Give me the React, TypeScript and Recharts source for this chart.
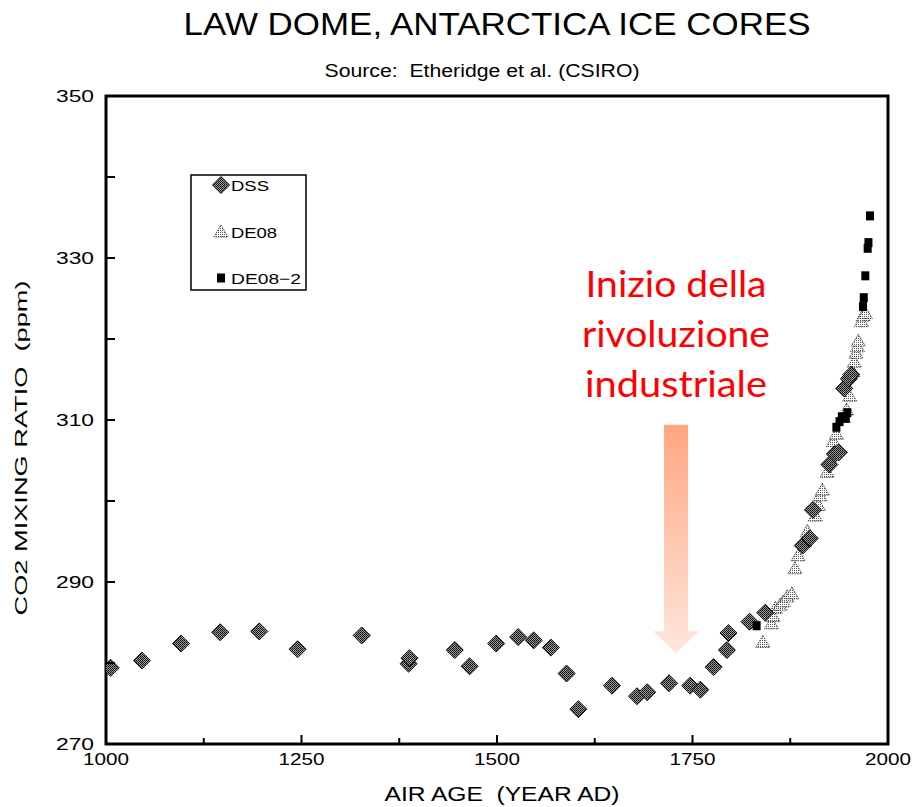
import React from "react";
import { ScatterChart, Scatter, XAxis, YAxis, ReferenceArea, Legend } from "recharts";

// Law Dome ice cores: air age (year AD) vs CO2 mixing ratio (ppm)
const dssYears = [
  1006, 1046, 1096, 1146, 1196, 1245, 1327, 1387, 1388, 1446, 1465, 1499, 1527, 1547,
  1569, 1589, 1604, 1647, 1679, 1692, 1720, 1747, 1760, 1777, 1794, 1796, 1823, 1843,
  1891, 1900, 1904, 1925, 1932, 1937, 1944, 1950, 1953,
];
const dssCo2 = [
  279.4, 280.3, 282.4, 283.8, 283.9, 281.7, 283.4, 279.9, 280.6, 281.6, 279.6, 282.4, 283.2, 282.8,
  281.9, 278.7, 274.3, 277.2, 275.9, 276.4, 277.5, 277.2, 276.7, 279.5, 281.6, 283.7, 285.1, 286.2,
  294.5, 295.4, 298.9, 304.5, 305.8, 306.0, 313.9, 315.1, 315.6,
];

const de08Years = [
  1840, 1851, 1853, 1856, 1862, 1866, 1871, 1877, 1881, 1885, 1893, 1897, 1907, 1911, 1913,
  1916, 1922, 1930, 1934, 1943, 1947, 1951, 1955, 1957, 1959, 1961, 1962, 1966, 1968, 1971,
];
const de08Co2 = [
  282.6, 284.9, 285.8, 286.8, 287.2, 287.6, 288.2, 288.6, 291.7, 293.3, 295.0, 296.3, 298.2, 299.5, 300.7,
  301.4, 303.6, 307.4, 308.3, 310.4, 311.3, 313.0, 316.0, 317.2, 318.3, 319.1, 319.8, 322.2, 322.9, 323.2,
];

const de082Years = [1832, 1934, 1938, 1941, 1946, 1948, 1968, 1969, 1971, 1974, 1975, 1977];
const de082Co2 = [284.6, 309.1, 309.8, 310.4, 310.2, 310.9, 324.0, 325.1, 327.8, 331.2, 331.9, 335.2];

const yearTicks = [1000, 1125, 1250, 1375, 1500, 1625, 1750, 1875, 2000];
const co2Ticks = [270, 280, 290, 300, 310, 320, 330, 340, 350];

const annotationLines = ["Inizio della", "rivoluzione", "industriale"];

const toPoints = (years: number[], values: number[]) =>
  years.map((year, i) => ({ year, co2: values[i] }));

const dss = toPoints(dssYears, dssCo2);
const de08 = toPoints(de08Years, de08Co2);
const de082 = toPoints(de082Years, de082Co2);

const FONT = '"Liberation Sans", Arial, Helvetica, sans-serif';

const diamondPath = (cx: number, cy: number, r: number) =>
  `M${cx},${cy - r}L${cx + r},${cy}L${cx},${cy + r}L${cx - r},${cy}Z`;
const trianglePath = (cx: number, cy: number) =>
  `M${cx},${cy - 6.5}L${cx + 7},${cy + 5.5}L${cx - 7},${cy + 5.5}Z`;

const DssMarker = (p: any) => (
  <path d={diamondPath(p.cx, p.cy, 8.5)} fill="url(#dssFill)" stroke="#111" strokeWidth={1} />
);
const De08Marker = (p: any) => (
  <path
    d={trianglePath(p.cx, p.cy)}
    fill="url(#de08Fill)"
    stroke="#444"
    strokeWidth={1}
    strokeDasharray="1.5 1"
  />
);
const De082Marker = (p: any) => <rect x={p.cx - 4} y={p.cy - 4.5} width={8} height={9} fill="#000" />;

function YearTick({ x, y, payload }: any) {
  const major = payload.value % 250 === 0;
  return (
    <g>
      <line x1={x} x2={x} y1={y} y2={y - (major ? 9 : 6)} stroke="#000" strokeWidth={2} />
      {major && (
        <text
          x={x}
          y={y + 21}
          textAnchor="middle"
          fontSize={17}
          fontFamily={FONT}
          fill="#000"
          textLength={46}
          lengthAdjust="spacingAndGlyphs"
        >
          {payload.value}
        </text>
      )}
    </g>
  );
}

function Co2Tick({ x, y, payload }: any) {
  return (
    <g>
      <line x1={x} x2={x + 9} y1={y} y2={y} stroke="#000" strokeWidth={2} />
      {payload.value % 20 === 10 && (
        <text
          x={x - 12}
          y={y + 6}
          textAnchor="end"
          fontSize={16}
          fontFamily={FONT}
          fill="#000"
          textLength={38}
          lengthAdjust="spacingAndGlyphs"
        >
          {payload.value}
        </text>
      )}
    </g>
  );
}

function Arrow({ x, y, width, height }: any) {
  const cx = x + width / 2;
  const shaft = 12;
  const head = 22;
  const neck = y + height - head;
  const d = `M${cx - shaft},${y}L${cx + shaft},${y}L${cx + shaft},${neck}L${x + width},${neck}L${cx},${y + height}L${x},${neck}L${cx - shaft},${neck}Z`;
  return <path d={d} fill="url(#arrowFill)" />;
}

const legendRows = [
  { name: "DSS", width: 38, marker: (cx: number, cy: number) => <DssMarker cx={cx} cy={cy} /> },
  { name: "DE08", width: 46, marker: (cx: number, cy: number) => <De08Marker cx={cx} cy={cy} /> },
  { name: "DE08\u22122", width: 70, marker: (cx: number, cy: number) => <De082Marker cx={cx} cy={cy} /> },
];

function LegendBox() {
  return (
    <svg width={118} height={118} style={{ display: "block" }}>
      <rect x={1} y={1} width={115} height={115} fill="#fff" stroke="#000" strokeWidth={1.5} />
      {legendRows.map((row, i) => {
        const cy = 11 + i * 46.5;
        return (
          <g key={row.name}>
            {row.marker(31, cy)}
            <text
              x={41}
              y={cy + 6}
              fontSize={15}
              fontFamily={FONT}
              fill="#000"
              textLength={row.width}
              lengthAdjust="spacingAndGlyphs"
            >
              {row.name}
            </text>
          </g>
        );
      })}
    </svg>
  );
}

export default function App() {
  return (
    <div style={{ position: "absolute", left: 0, top: 0, width: 916, height: 807, background: "#fff" }}>
      <ScatterChart width={916} height={807} margin={{ top: 96, right: 28, bottom: 0, left: 0 }}>
        <defs>
          <pattern id="dssFill" width={2} height={2} patternUnits="userSpaceOnUse">
            <rect width={2} height={2} fill="#9a9a9a" />
            <rect x={0} y={0} width={1} height={1} fill="#000" />
            <rect x={1} y={1} width={1} height={1} fill="#222" />
          </pattern>
          <pattern id="de08Fill" width={2} height={2} patternUnits="userSpaceOnUse">
            <rect width={2} height={2} fill="#fff" />
            <rect x={0} y={0} width={1} height={1} fill="#555" />
          </pattern>
          <linearGradient id="arrowFill" x1="0" y1="0" x2="0" y2="1">
            <stop offset="0%" stopColor="#ffa680" />
            <stop offset="100%" stopColor="#ffe6dc" />
          </linearGradient>
        </defs>

        <XAxis
          type="number"
          dataKey="year"
          domain={[1000, 2000]}
          ticks={yearTicks}
          interval={0}
          height={63}
          axisLine={false}
          tickLine={false}
          tickSize={0}
          tickMargin={0}
          tick={(p: any) => <YearTick {...p} />}
          allowDataOverflow
        />
        <YAxis
          type="number"
          dataKey="co2"
          domain={[270, 350]}
          ticks={co2Ticks}
          interval={0}
          width={106}
          axisLine={false}
          tickLine={false}
          tickSize={0}
          tickMargin={0}
          tick={(p: any) => <Co2Tick {...p} />}
          allowDataOverflow
        />

        <ReferenceArea
          x1={1000}
          x2={2000}
          y1={270}
          y2={350}
          fill="none"
          fillOpacity={0}
          stroke="#000"
          strokeWidth={3}
        />
        <ReferenceArea x1={1700} x2={1758} y1={281.2} y2={309.4} shape={(p: any) => <Arrow {...p} />} />

        <Scatter name="DE08" data={de08} shape={De08Marker} isAnimationActive={false} />
        <Scatter name="DSS" data={dss} shape={DssMarker} isAnimationActive={false} />
        <Scatter name="DE08-2" data={de082} shape={De082Marker} isAnimationActive={false} />

        <Legend
          layout="horizontal"
          verticalAlign="middle"
          align="center"
          content={() => <LegendBox />}
          wrapperStyle={{ left: 190, top: 174, width: 118, height: 118 }}
        />

        <text
          x={497}
          y={35}
          textAnchor="middle"
          fontSize={31}
          fontFamily={FONT}
          fill="#000"
          textLength={627}
          lengthAdjust="spacingAndGlyphs"
        >
          LAW DOME, ANTARCTICA ICE CORES
        </text>
        <text
          x={482}
          y={77}
          textAnchor="middle"
          fontSize={18}
          fontFamily={FONT}
          fill="#000"
          textLength={315}
          lengthAdjust="spacingAndGlyphs"
        >
          {"Source:\u00a0 Etheridge et al. (CSIRO)"}
        </text>
        <text
          x={502}
          y={801}
          textAnchor="middle"
          fontSize={20}
          fontFamily={FONT}
          fill="#000"
          textLength={235}
          lengthAdjust="spacingAndGlyphs"
        >
          {"AIR AGE\u00a0 (YEAR AD)"}
        </text>
        <text
          transform="translate(27,448) rotate(-90)"
          textAnchor="middle"
          fontSize={17}
          fontFamily={FONT}
          fill="#000"
          textLength={335}
          lengthAdjust="spacingAndGlyphs"
        >
          {"CO2 MIXING RATIO\u00a0 (ppm)"}
        </text>

        {annotationLines.map((line, i) => (
          <text
            key={line}
            x={676}
            y={297 + i * 50}
            textAnchor="middle"
            fontSize={37}
            fontFamily="Lato, 'Open Sans', sans-serif"
            fill="#ff0000"
            textLength={[181, 188, 182][i]}
            lengthAdjust="spacingAndGlyphs"
          >
            {line}
          </text>
        ))}
      </ScatterChart>
    </div>
  );
}
